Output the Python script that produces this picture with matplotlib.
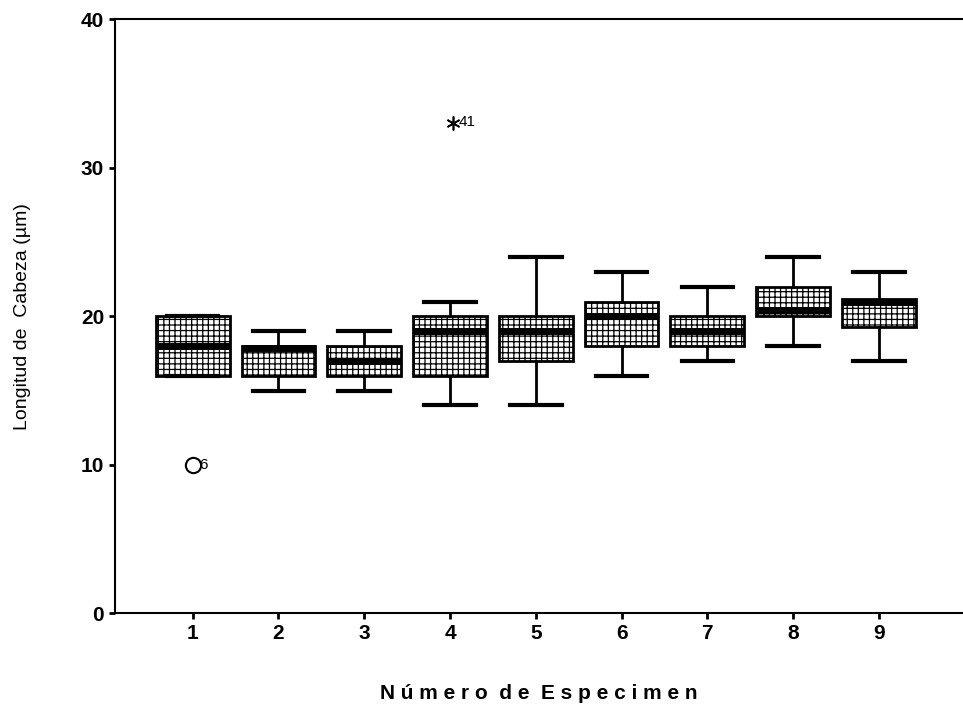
import matplotlib.pyplot as plt

# Box statistics (head length, um)
specimens = [1, 2, 3, 4, 5, 6, 7, 8, 9]
q1 = [16, 16, 16, 16, 17, 18, 18, 20, 19.3]
med = [18, 17.9, 17, 19, 19, 20, 19, 20.4, 21]
q3 = [20, 18, 18, 20, 20, 21, 20, 22, 21.2]
whis_lo = [16, 15, 15, 14, 14, 16, 17, 18, 17]
whis_hi = [20, 19, 19, 21, 24, 23, 22, 24, 23]

# outliers: specimen, value, case label, marker
out_x = [1, 4]
out_y = [10, 33]
out_lab = ['6', '41']
out_mark = ['o', '*']

plt.rcParams['font.family'] = ['Liberation Sans', 'DejaVu Sans']
plt.rcParams['hatch.linewidth'] = 0.9

fig = plt.figure(figsize=(9.63, 7.19), dpi=100)
ax = fig.add_axes([0.119, 0.147, 0.881, 0.826])

stats = []
for i in range(len(specimens)):
    stats.append(dict(label=str(specimens[i]), q1=q1[i], med=med[i], q3=q3[i],
                      whislo=whis_lo[i], whishi=whis_hi[i], fliers=[]))

bp = ax.bxp(stats, positions=specimens, widths=0.86, patch_artist=True,
            showfliers=False,
            boxprops=dict(facecolor='white', edgecolor='black', linewidth=2),
            medianprops=dict(color='black', linewidth=5),
            whiskerprops=dict(color='black', linewidth=2),
            capprops=dict(color='black', linewidth=3),
            capwidths=0.6)
for b in bp['boxes']:
    b.set_hatch('+++')

for x, y, lab, m in zip(out_x, out_y, out_lab, out_mark):
    if m == 'o':
        ax.plot(x, y, marker='o', markersize=11, markerfacecolor='white',
                markeredgecolor='black', markeredgewidth=1.5, linestyle='none')
        ax.text(x + 0.08, y, lab, fontsize=11, va='center', ha='left')
    else:
        ax.plot(x + 0.03, y, marker=(6, 2, 0), markersize=10, color='black',
                markeredgewidth=1.2, linestyle='none')
        ax.text(x + 0.1, y + 0.1, lab, fontsize=11, va='center', ha='left')

ax.set_xlim(0.09, 9.98)
ax.set_ylim(0, 40)
ax.set_yticks([0, 10, 20, 30, 40])
ax.set_xticks(specimens)
ax.set_xticklabels([str(s) for s in specimens])
ax.spines['right'].set_visible(False)
for s in ['left', 'bottom', 'top']:
    ax.spines[s].set_linewidth(1.5)
ax.tick_params(axis='both', direction='out', length=4, width=2, labelsize=15)
for t in ax.get_xticklabels() + ax.get_yticklabels():
    t.set_fontweight('bold')

ax.set_ylabel('Longitud de  Cabeza (µm)', fontsize=14, labelpad=36)
ax.set_xlabel('N ú m e r o  d e  E s p e c i m e n', fontsize=15,
              fontweight='bold', labelpad=30)

fig.savefig('out.png', dpi=100)
